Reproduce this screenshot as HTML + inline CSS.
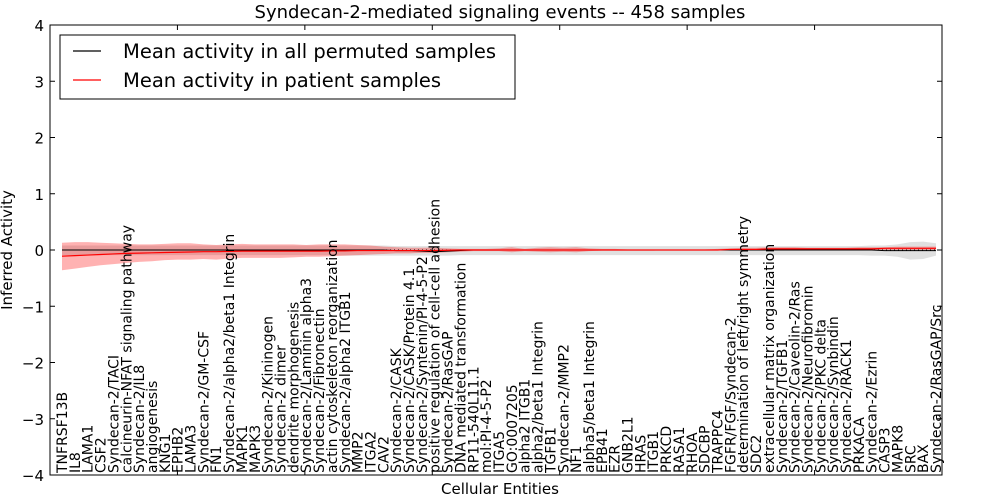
<!DOCTYPE html>
<html><head><meta charset="utf-8"><style>
body{margin:0;background:#fff;}
svg{display:block;font-family:"DejaVu Sans","Liberation Sans",sans-serif;}
</style></head><body>
<svg id="chart" width="1000" height="500" xmlns="http://www.w3.org/2000/svg">
<text x="500" y="18" text-anchor="middle" font-size="18">Syndecan-2-mediated signaling events -- 458 samples</text>
<g id="bands"></g>
<g id="lines"></g>
<rect x="50" y="25" width="892" height="450" fill="none" stroke="#000" stroke-width="1"/>
<g id="axes"></g>
<g id="xlabels"></g>
<text x="12" y="250" font-size="15" text-anchor="middle" transform="rotate(-90 12 250)">Inferred Activity</text>
<text x="500" y="494" font-size="15" text-anchor="middle">Cellular Entities</text>
<g>
<rect x="60" y="35" width="455" height="64" fill="#fff" stroke="#000" stroke-width="1"/>
<line x1="73" y1="51" x2="101" y2="51" stroke="#000" stroke-width="1.2"/>
<text x="123" y="58" font-size="19.5">Mean activity in all permuted samples</text>
<line x1="73" y1="80" x2="101" y2="80" stroke="#f00" stroke-width="1.2"/>
<text x="123" y="87" font-size="19.5">Mean activity in patient samples</text>
</g>
</svg>
<script>
const categories=["TNFRSF13B","IL8","LAMA1","CSF2","Syndecan-2/TACI","calcineurin-NFAT signaling pathway","Syndecan-2/IL8","angiogenesis","KNG1","EPHB2",
"LAMA3","Syndecan-2/GM-CSF","FN1","Syndecan-2/alpha2/beta1 Integrin","MAPK1","MAPK3","Syndecan-2/Kininogen","Syndecan-2 dimer","dendrite morphogenesis","Syndecan-2/Laminin alpha3",
"Syndecan-2/Fibronectin","actin cytoskeleton reorganization","Syndecan-2/alpha2 ITGB1","MMP2","ITGA2","CAV2","Syndecan-2/CASK","Syndecan-2/CASK/Protein 4.1","Syndecan-2/Syntenin/PI-4-5-P2","positive regulation of cell-cell adhesion",
"Syndecan-2/RasGAP","DNA mediated transformation","RP11-540L11.1","mol:PI-4-5-P2","ITGA5","GO:0007205","alpha2 ITGB1","alpha2/beta1 Integrin","TGFB1","Syndecan-2/MMP2",
"NF1","alpha5/beta1 Integrin","EPB41","EZR","GNB2L1","HRAS","ITGB1","PRKCD","RASA1","RHOA",
"SDCBP","TRAPPC4","FGFR/FGF/Syndecan-2","determination of left/right symmetry","SDC2","extracellular matrix organization","Syndecan-2/TGFB1","Syndecan-2/Caveolin-2/Ras","Syndecan-2/Neurofibromin","Syndecan-2/PKC delta",
"Syndecan-2/Synbindin","Syndecan-2/RACK1","PRKACA","Syndecan-2/Ezrin","CASP3","MAPK8","SRC","BAX","Syndecan-2/RasGAP/Src"];
const redMean=[-0.11,-0.1,-0.09,-0.08,-0.07,-0.06,-0.055,-0.05,-0.045,-0.04,
-0.035,-0.03,-0.03,-0.025,-0.02,-0.02,-0.02,-0.02,-0.02,-0.02,
-0.02,-0.015,-0.015,-0.01,-0.01,-0.01,-0.01,-0.01,-0.01,-0.01,
-0.005,0,0,0,0,0,0,0,0,0,
0,0,0,0,0,0,0,0,0,0,
0,0,0.01,0.01,0.01,0.02,0.02,0.02,0.02,0.02,
0.02,0.02,0.02,0.02,0.03,0.03,0.03,0.03,0.03];
const redHi=[0.13,0.14,0.14,0.13,0.12,0.11,0.1,0.1,0.11,0.12,
0.12,0.1,0.09,0.1,0.11,0.1,0.1,0.1,0.1,0.09,
0.1,0.1,0.1,0.09,0.08,0.06,0.05,0.04,0.04,0.04,
0.03,0.02,0.02,0.02,0.03,0.05,0.02,0.04,0.05,0.04,
0.05,0.03,0.02,0.02,0.01,0.01,0.01,0.01,0.01,0.01,
0.01,0.02,0.03,0.04,0.04,0.05,0.05,0.05,0.04,0.04,
0.04,0.04,0.05,0.05,0.05,0.06,0.06,0.06,0.06];
const redLo=[-0.36,-0.33,-0.3,-0.27,-0.25,-0.23,-0.21,-0.2,-0.18,-0.17,
-0.17,-0.16,-0.17,-0.15,-0.14,-0.14,-0.14,-0.14,-0.13,-0.12,
-0.12,-0.11,-0.1,-0.09,-0.08,-0.07,-0.06,-0.06,-0.05,-0.05,
-0.04,-0.03,-0.02,-0.02,-0.02,-0.04,-0.02,-0.03,-0.04,-0.03,
-0.04,-0.02,-0.01,-0.01,-0.01,-0.01,-0.01,0,0,0,
0,0,-0.01,-0.01,0,0,0,0,0,0,
0,0,0,0,0,0,0,0,0];
const greyMean=[0,0,0,0,0,0,0,0,0,0,
0,0,0,0,0,0,0,0,0,0,
0,0,0,0,0,0,-0.01,-0.01,-0.02,-0.03,
-0.02,-0.01,0,0,0,0,0,0,0,0,
0,0,0,0,0,0,0,0,0,0,
0,0,0,0,0,0,0,0,0,0,
0,0,0,0,-0.01,-0.01,-0.01,-0.01,-0.01];
const greyHi=[0.08,0.08,0.08,0.08,0.08,0.08,0.08,0.08,0.08,0.08,
0.08,0.08,0.08,0.08,0.08,0.08,0.08,0.08,0.08,0.08,
0.08,0.08,0.08,0.08,0.08,0.08,0.07,0.07,0.07,0.07,
0.07,0.07,0.07,0.07,0.07,0.07,0.07,0.07,0.07,0.07,
0.07,0.07,0.07,0.07,0.07,0.07,0.07,0.07,0.07,0.07,
0.07,0.07,0.07,0.07,0.07,0.07,0.07,0.07,0.07,0.07,
0.07,0.07,0.07,0.08,0.08,0.1,0.14,0.15,0.12];
const greyLo=[-0.09,-0.09,-0.09,-0.09,-0.09,-0.09,-0.09,-0.09,-0.09,-0.09,
-0.09,-0.09,-0.09,-0.09,-0.09,-0.09,-0.09,-0.09,-0.09,-0.09,
-0.09,-0.09,-0.1,-0.1,-0.1,-0.1,-0.1,-0.1,-0.1,-0.1,
-0.1,-0.09,-0.09,-0.09,-0.09,-0.09,-0.09,-0.09,-0.09,-0.09,
-0.09,-0.09,-0.09,-0.09,-0.09,-0.09,-0.09,-0.09,-0.09,-0.09,
-0.09,-0.09,-0.09,-0.09,-0.09,-0.09,-0.09,-0.09,-0.09,-0.09,
-0.09,-0.09,-0.09,-0.1,-0.1,-0.12,-0.17,-0.16,-0.1];
const yTicks=[-4,-3,-2,-1,0,1,2,3,4];
const NS="http://www.w3.org/2000/svg";
const X0=62,X1=936,Y0=250,YS=56.25;
const xs=i=>X0+i*(X1-X0)/(categories.length-1);
const ys=v=>Y0-v*YS;
function mk(tag,attrs,parent){const e=document.createElementNS(NS,tag);for(const k in attrs)e.setAttribute(k,attrs[k]);parent.appendChild(e);return e;}
function area(hi,lo){let d="M"+hi.map((v,i)=>xs(i)+","+ys(v)).join("L");for(let i=lo.length-1;i>=0;i--)d+="L"+xs(i)+","+ys(lo[i]);return d+"Z";}
function line(a){return "M"+a.map((v,i)=>xs(i)+","+ys(v)).join("L");}
const bands=document.getElementById('bands'),lines=document.getElementById('lines'),axes=document.getElementById('axes'),xl=document.getElementById('xlabels');
let g=mk('path',{d:area(greyHi,greyLo),fill:'#bbb','fill-opacity':0.45,stroke:'none'},bands);


let r=mk('path',{d:area(redHi,redLo),fill:'#f00','fill-opacity':0.3,stroke:'none'},bands);


let zl=mk('line',{x1:xs(0),x2:xs(categories.length-1),y1:ys(0),y2:ys(0),stroke:'#000','stroke-dasharray':'1,3','stroke-width':1},lines);


let bl=mk('path',{d:line(greyMean),fill:'none',stroke:'#000','stroke-width':1},lines);


let rl=mk('path',{d:line(redMean),fill:'none',stroke:'#f00','stroke-width':1.2},lines);


yTicks.forEach(v=>{
  const y=ys(v);
  mk('line',{x1:50,x2:55,y1:y,y2:y,stroke:'#000'},axes);
  mk('line',{x1:937,x2:942,y1:y,y2:y,stroke:'#000'},axes);
  const t=mk('text',{x:44,y:y+6,'text-anchor':'end','font-size':15},axes);
  t.textContent=(v<0?"\u2212":"")+Math.abs(v);
  
  
});
for(let k=1;k<7;k++){const x=50+k*892/7;
  mk('line',{x1:x,x2:x,y1:25,y2:30,stroke:'#000'},axes);
  mk('line',{x1:x,x2:x,y1:470,y2:475,stroke:'#000'},axes);}
categories.forEach((c,i)=>{
  const x=xs(i)+5;
  const t=mk('text',{x:x,y:473,'font-size':14,transform:`rotate(-90 ${x} 473)`},xl);
  t.textContent=c;
  
  
});
</script>
</body></html>
